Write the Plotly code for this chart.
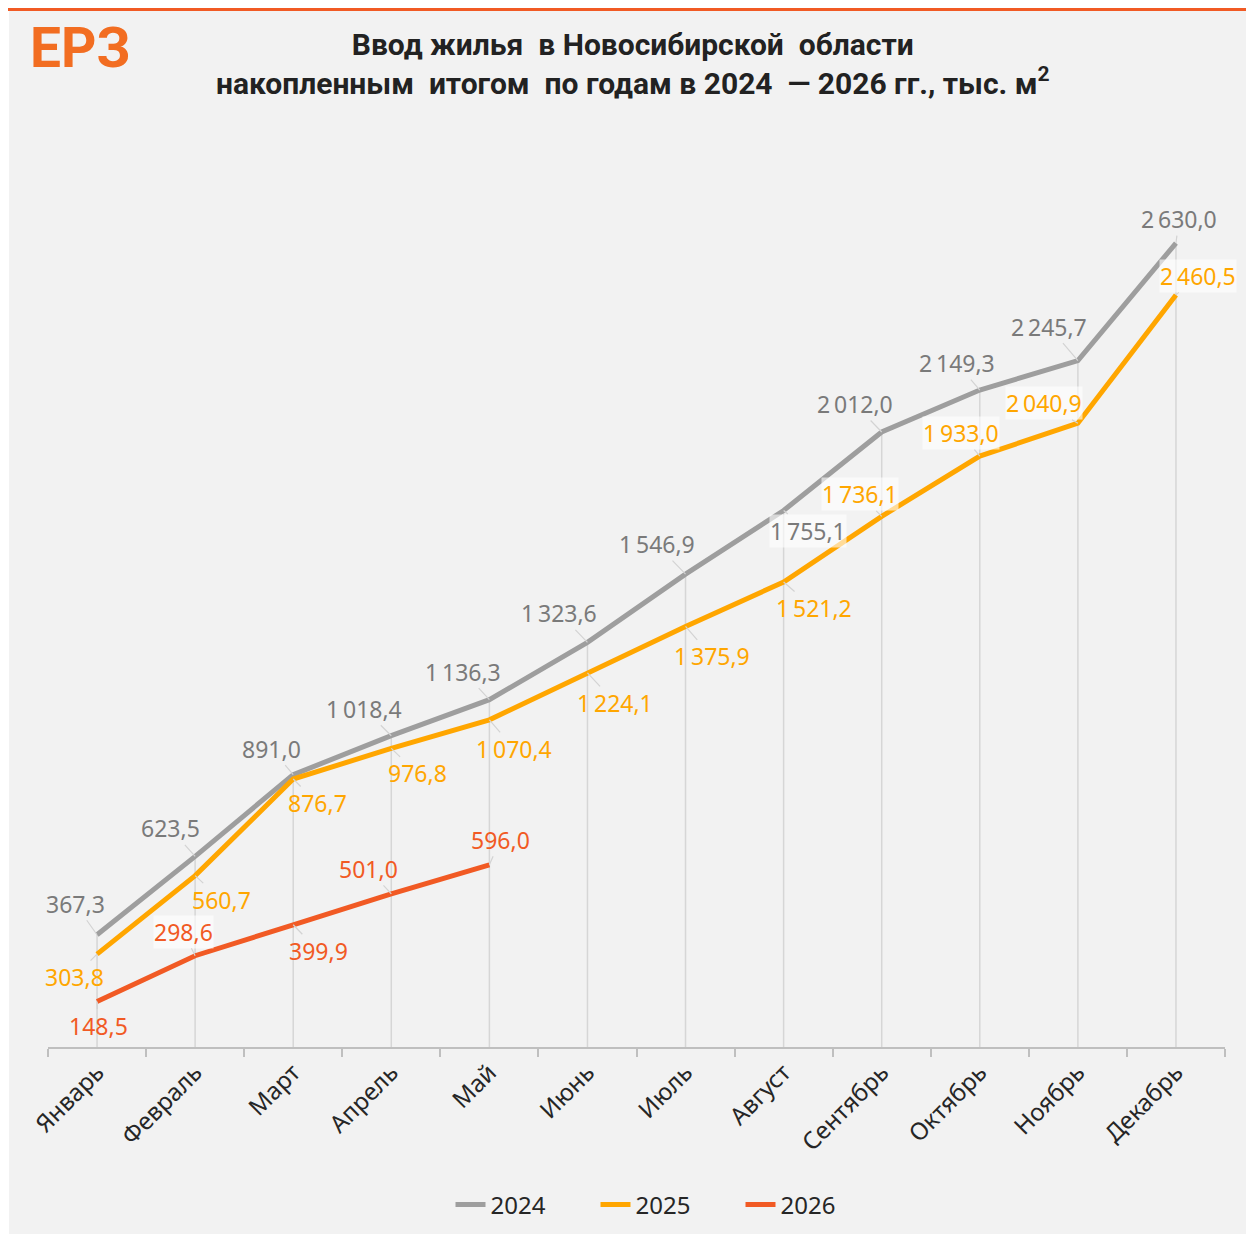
import plotly.graph_objects as go

months = ["Январь", "Февраль", "Март", "Апрель", "Май", "Июнь", "Июль",
          "Август", "Сентябрь", "Октябрь", "Ноябрь", "Декабрь"]
v2024 = [367.3, 623.5, 891.0, 1018.4, 1136.3, 1323.6, 1546.9, 1755.1,
         2012.0, 2149.3, 2245.7, 2630.0]
v2025 = [303.8, 560.7, 876.7, 976.8, 1070.4, 1224.1, 1375.9, 1521.2,
         1736.1, 1933.0, 2040.9, 2460.5]
v2026 = [148.5, 298.6, 399.9, 501.0, 596.0]

# label pixel offsets (style only)
off2024 = [(-22, -31), (-25, -28), (-22, -26), (-27, -27), (-26, -28), (-28, -29),
           (-29, -30), (24, 20), (-27, -28), (-23, -27), (-29, -34), (3, -24)]
off2025 = [(-23, 23), (26, 24), (24, 24), (26, 25), (25, 29), (28, 30),
           (26, 30), (30, 26), (-22, -22), (-19, -23), (-34, -20), (22, -19)]
off2026 = [(1, 24), (-12, -24), (25, 26), (-23, -25), (11, -25)]
box2024 = [False] * 7 + [True] + [False] * 4
box2025 = [False] * 8 + [True] * 4
box2026 = [False, True, False, False, False]

C24, C25, C26 = "#9e9e9e", "#ffa600", "#f15a24"
L24, L25, L26 = "#7a7a7a", "#ffa600", "#f15a24"
OFF = 8  # page body margin
W, H = 1254 - OFF, 1234 - OFF
ML, MR, MT, MB = 48 - OFF, 29, 130 - OFF, 187
PW, PH = W - ML - MR, H - MT - MB


def px_x(p):
    return (p - OFF - ML) / PW


def px_y(p):
    return (H - MB - (p - OFF)) / PH


def fmt(v):
    return f"{v:,.1f}".replace(",", "\u202f").replace(".", ",")


fig = go.Figure()

# drop lines
dx, dy = [], []
for i, m in enumerate(months):
    top = max([s[i] for s in (v2024, v2025, v2026) if i < len(s)])
    dx += [m, m, None]
    dy += [0, top, None]
fig.add_trace(go.Scatter(x=dx, y=dy, mode="lines", line=dict(color="#d6d6d6", width=1.5),
                         showlegend=False, hoverinfo="skip"))

for name, vals, col in (("2024", v2024, C24), ("2025", v2025, C25), ("2026", v2026, C26)):
    fig.add_trace(go.Scatter(x=months[:len(vals)], y=vals, mode="lines", name=name,
                             line=dict(color=col, width=5)))

ann = []
for vals, offs, boxes, col in ((v2024, off2024, box2024, L24),
                               (v2025, off2025, box2025, L25),
                               (v2026, off2026, box2026, L26)):
    for i, v in enumerate(vals):
        ax, ay = offs[i]
        ann.append(dict(x=months[i], y=v, xref="x", yref="y", text=fmt(v),
                        showarrow=True, arrowhead=0, arrowwidth=1.2, arrowcolor="#d3d3d3",
                        standoff=0, ax=ax, ay=ay,
                        font=dict(family="Noto Sans", size=23, color=col),
                        bgcolor="rgba(255,255,255,0.6)" if boxes[i] else None,
                        borderpad=0))

ann.append(dict(x=px_x(80), y=px_y(48), xref="paper", yref="paper", showarrow=False,
                xanchor="center", yanchor="middle",
                text="<b>ЕРЗ</b>", font=dict(family="Roboto", size=55, color="#f26d21")))
ann.append(dict(x=px_x(633), y=px_y(64), xref="paper", yref="paper", showarrow=False,
                xanchor="center", yanchor="middle",
                text="<b>Ввод жилья  в Новосибирской  области<br>накопленным  итогом  по годам в 2024  — 2026 гг., тыс. м<sup>2</sup></b>",
                font=dict(family="Roboto", size=30, color="#222222")))

shapes = [
    dict(type="rect", xref="paper", yref="paper", x0=px_x(9), x1=px_x(1260), y0=px_y(1240), y1=px_y(7),
         fillcolor="#f2f2f2", line=dict(width=0), layer="below"),
    dict(type="rect", xref="paper", yref="paper", x0=px_x(0), x1=px_x(1260), y0=px_y(11), y1=px_y(8),
         fillcolor="#f15a24", line=dict(width=0), layer="below"),
]

fig.update_layout(
    width=W, height=H,
    margin=dict(l=ML, r=MR, t=MT, b=MB, autoexpand=False),
    paper_bgcolor="white", plot_bgcolor="rgba(0,0,0,0)",
    annotations=ann, shapes=shapes,
    showlegend=True,
    legend=dict(orientation="h", x=px_x(668), xanchor="center", y=px_y(1205), yanchor="middle",
                font=dict(family="Noto Sans", size=24, color="#262626"),
                bgcolor="rgba(0,0,0,0)", entrywidth=100, entrywidthmode="pixels"),
    xaxis=dict(type="category", categoryorder="array", categoryarray=months,
               range=[-0.5, 11.5], showgrid=False, showline=True, linecolor="#bfbfbf", linewidth=2,
               ticks="outside", tickson="boundaries", ticklen=8, tickcolor="#bfbfbf", tickwidth=1.5,
               tickangle=-45, automargin=False,
               tickfont=dict(family="Noto Sans", size=24, color="#262626")),
    yaxis=dict(range=[0, 3000], visible=False, showgrid=False, zeroline=False, automargin=False),
)

fig.write_html("out.html")
